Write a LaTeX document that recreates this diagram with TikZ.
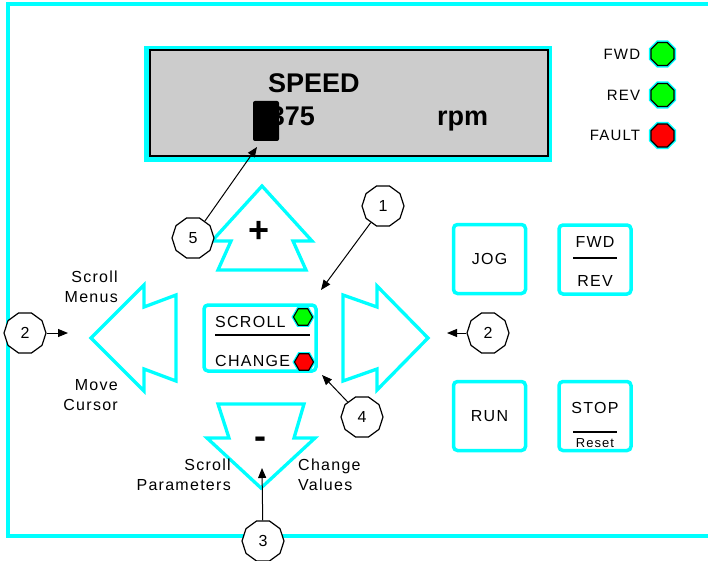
\documentclass[tikz,border=0pt]{standalone}
\usepackage{fontspec}
\setmainfont{Liberation Sans}[LetterSpace=8]
\newfontfamily\lcdfont{Liberation Sans}
\usetikzlibrary{arrows.meta,shapes.geometric,positioning}
\definecolor{kcyan}{RGB}{0,255,255}
\definecolor{lcdgray}{RGB}{204,204,204}
\definecolor{ledgreen}{RGB}{0,255,0}
\definecolor{ledred}{RGB}{255,0,0}
\tikzset{panel/.style={x=1pt,y=-1pt,font=\fontsize{16}{20}\selectfont}}
\tikzset{keybox/.style={draw=kcyan,line width=3.5pt,rounded corners=4pt,minimum width=72pt,minimum height=69pt,font=\fontsize{16}{19}\selectfont},
         keytxt/.style={inner sep=0pt,font=\fontsize{16}{19}\selectfont},
         padarrow/.style={draw=kcyan,line width=3.3pt,line join=miter},
         padsign/.style={inner sep=0pt,font=\lcdfont\bfseries\fontsize{36}{36}\selectfont},
         lcd/.style={inner sep=0pt,font=\lcdfont\bfseries\fontsize{27}{30}\selectfont}}
\tikzset{led/.style={regular polygon,regular polygon sides=8,draw,line width=1.2pt,minimum size=25pt,inner sep=0pt,
                     preaction={draw=kcyan,line width=4pt}},
         minled/.style={regular polygon,regular polygon sides=6,draw,line width=1.1pt,minimum size=19pt,inner sep=0pt,
                     preaction={draw=kcyan,line width=3.5pt}},
         ledtxt/.style={inner sep=0pt,font=\fontsize{15}{18}\selectfont},
         callout/.style={regular polygon,regular polygon sides=10,draw,fill=white,line width=1.2pt,minimum size=42pt,
                     inner sep=0pt,font=\lcdfont\fontsize{16}{16}\selectfont},
         callarrow/.style={-{Triangle[length=10pt,width=8pt]},line width=1pt}}

\begin{document}
\begin{tikzpicture}[panel]
    \useasboundingbox (0,0) rectangle (708,561);
    \draw[kcyan,line width=4pt] (708,4) -- (8,4) -- (8,536) -- (708,536);
    % display
    \fill[kcyan] (144,46) rectangle (552,162);
    \draw[fill=lcdgray,line width=2pt] (149.5,50.5) rectangle (548,156.5);
    \node[lcd,anchor=base west] (title) at (268,92.5) {SPEED};
    \node[lcd,anchor=base east] (value) at (315,126) {375};
    \node[lcd,anchor=base west] (unit) at (437,126) {rpm};
    \node[fill=black,rounded corners=2pt,minimum width=26pt,minimum height=40pt,inner sep=0pt] (cursor) at (266,121) {};
    % status lamps
    \node[led,fill=ledgreen] (fwd) at (662.5,54) {};
    \node[led,fill=ledgreen] (rev) at (662.5,95) {};
    \node[led,fill=ledred] (fault) at (662.5,135.5) {};
    \node[ledtxt,left=10pt of fwd] (fwdtxt) {FWD};
    \node[ledtxt,left=10pt of rev] (revtxt) {REV};
    \node[ledtxt,left=10pt of fault] (faulttxt) {FAULT};
    % arrow pad
    \draw[padarrow] (262,186) -- (312,241) -- (293,241) -- (306,270) -- (218,270) -- (231,241) -- (212,241) -- cycle;
    \draw[padarrow] (218,404) -- (304,404) -- (294,438) -- (315,438) -- (261,488) -- (207,438) -- (229,438) -- cycle;
    \draw[padarrow] (91,338) -- (144,285) -- (144,307) -- (176,295) -- (176,381) -- (144,369) -- (144,391) -- cycle;
    \draw[padarrow] (428,338) -- (377,286) -- (377,307) -- (343,295) -- (343,381) -- (377,369) -- (377,390) -- cycle;
    \node[padsign] (plus) at (259,232) {+};
    \node[padsign] (minus) at (260,443) {-};
    % mode key
    \node[keybox,minimum width=112pt,minimum height=66pt] (mode) at (260,338) {};
    \node[keytxt,anchor=base west] (scroll) at (215,327) {SCROLL};
    \node[keytxt,anchor=base west] (change) at (215,366) {CHANGE};
    \draw[line width=1.2pt] (215,335) -- (310,335);
    \node[minled,fill=ledgreen] (scrled) at (303,317) {};
    \node[minled,fill=ledred] (chgled) at (304,362) {};
    % keys
    \node[keybox] (jog) at (489.5,259) {JOG};
    \node[keybox] (fwdrev) at (595,259.5) {};
    \node[keytxt] (fwdlbl) at ([yshift=18pt]fwdrev.center) {FWD};
    \node[keytxt] (revlbl) at ([yshift=-21.5pt]fwdrev.center) {REV};
    \draw[line width=1.2pt] ([xshift=-22pt,yshift=1.5pt]fwdrev.center) -- ([xshift=22pt,yshift=1.5pt]fwdrev.center);
    \node[keybox] (run) at (489.5,416) {RUN};
    \node[keybox] (stop) at (595,416) {};
    \node[keytxt] (stoplbl) at ([yshift=8pt]stop.center) {STOP};
    \node[keytxt,font=\fontsize{13}{15}\selectfont] (resetlbl) at ([yshift=-27pt]stop.center) {Reset};
    \draw[line width=1.2pt] ([xshift=-22pt,yshift=-16pt]stop.center) -- ([xshift=22pt,yshift=-16pt]stop.center);
    % key functions
    \node[inner sep=0pt,align=right,anchor=east] (menus) at (118,287) {Scroll\\Menus};
    \node[inner sep=0pt,align=right,anchor=east] (cursortxt) at (118,395) {Move\\Cursor};
    \node[inner sep=0pt,align=right,anchor=east] (params) at (231,475) {Scroll\\Parameters};
    \node[inner sep=0pt,align=left,anchor=west] (values) at (298,475) {Change\\Values};
    % callouts
    \node[callout] (c1) at (383,206) {1};
    \node[callout] (c2l) at (25,333) {2};
    \node[callout] (c2r) at (488,333) {2};
    \node[callout] (c3) at (263,541) {3};
    \node[callout] (c4) at (362,417) {4};
    \node[callout] (c5) at (193,238) {5};
    \coordinate (t1) at (321,290);
    \coordinate (t2l) at (68,333);
    \coordinate (t2r) at (447,333);
    \coordinate (t3) at (262,468);
    \coordinate (t4) at (322,375);
    \coordinate (t5) at (257,147);
    \draw[callarrow] (c1) -- (t1);
    \draw[callarrow] (c2l) -- (t2l);
    \draw[callarrow] (c2r) -- (t2r);
    \draw[callarrow] (c3) -- (t3);
    \draw[callarrow] (c4) -- (t4);
    \draw[callarrow] (c5) -- (t5);
\end{tikzpicture}
\end{document}
